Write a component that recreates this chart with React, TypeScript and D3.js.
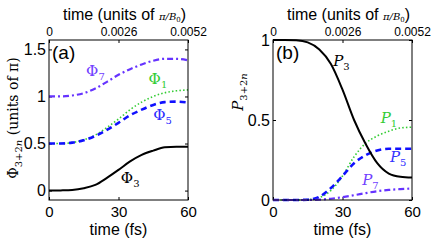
import * as d3 from 'd3'
import { useEffect, useRef } from 'react'

// time grid (fs)
const times = [0, 5, 10, 15, 20, 25, 30, 35, 40, 45, 50, 55, 60]

// panel (a): phases in units of pi
const phi1 = [0.5, 0.5, 0.51, 0.54, 0.59, 0.67, 0.76, 0.86, 0.94, 1.0, 1.04, 1.06, 1.07]
const phi3 = [0, 0.002, 0.007, 0.025, 0.06, 0.135, 0.22, 0.31, 0.38, 0.425, 0.46, 0.467, 0.467]
const phi5 = [0.5, 0.5, 0.51, 0.535, 0.58, 0.645, 0.72, 0.8, 0.86, 0.91, 0.94, 0.945, 0.935]
const phi7 = [1.0, 1.0, 1.01, 1.035, 1.085, 1.155, 1.23, 1.29, 1.34, 1.38, 1.4, 1.4, 1.385]

// panel (b): populations
const p1 = [0, 0, 0, 0.003, 0.015, 0.06, 0.15, 0.27, 0.355, 0.4, 0.43, 0.45, 0.455]
const p3 = [1, 1, 0.998, 0.985, 0.94, 0.85, 0.69, 0.5, 0.35, 0.23, 0.165, 0.145, 0.14]
const p5 = [0, 0, 0, 0.002, 0.02, 0.075, 0.15, 0.23, 0.28, 0.31, 0.32, 0.32, 0.32]
const p7 = [0, 0, 0, 0, 0.002, 0.008, 0.018, 0.03, 0.043, 0.055, 0.063, 0.068, 0.072]

const xTicks = [0, 30, 60]
const topTicks = [0, 0.0026, 0.0052]
const topTickLabels = ['0', '0.0026', '0.0052']
const phiTicks = [0, 0.5, 1, 1.5]
const phiTickLabels = ['0', '0.5', '1', '1.5']
const pTicks = [0, 0.5, 1]
const pTickLabels = ['0', '0.5', '1']

const sans = 'Liberation Sans, Arial, sans-serif'
const serif = 'DejaVu Serif, Liberation Serif, serif'

const styles = {
  black: { color: '#000000', width: 2, dash: null },
  green: { color: '#33cc33', width: 1.6, dash: '1.5,2.2' },
  blue: { color: '#1010ff', width: 2.6, dash: '6,4' },
  purple: { color: '#6633ff', width: 2.2, dash: '6,3,2,3' },
}

export default function App() {
  const ref = useRef(null)

  useEffect(() => {
    const svg = d3.select(ref.current)
    svg.selectAll('*').remove()

    const top = 40
    const bottom = 200

    function panel(x0, x1, yDomain, yTicks, yLabels, series, tag) {
      const x = d3.scaleLinear().domain([0, 60]).range([x0, x1])
      const xt = d3.scaleLinear().domain([0, 0.0052]).range([x0, x1])
      const y = d3.scaleLinear().domain(yDomain).range([bottom, top])
      const g = svg.append('g')

      const styleAxis = (sel, size) => {
        sel.select('.domain').remove()
        sel.selectAll('line').attr('stroke', '#000')
        sel.selectAll('text').attr('font-family', sans).attr('font-size', size).attr('fill', '#000')
      }

      g.append('g')
        .attr('transform', `translate(0,${bottom})`)
        .call(d3.axisBottom(x).tickValues(xTicks).tickSize(-3).tickPadding(6))
        .call((s) => styleAxis(s, 15))
      g.append('g')
        .attr('transform', `translate(0,${top})`)
        .call(
          d3
            .axisTop(xt)
            .tickValues(topTicks)
            .tickFormat((d, i) => topTickLabels[i])
            .tickSize(-3)
            .tickPadding(4)
        )
        .call((s) => styleAxis(s, 12))
      g.append('g')
        .attr('transform', `translate(${x0},0)`)
        .call(
          d3
            .axisLeft(y)
            .tickValues(yTicks)
            .tickFormat((d, i) => yLabels[i])
            .tickSize(-3)
            .tickPadding(3)
        )
        .call((s) => styleAxis(s, 16))
      g.append('g')
        .attr('transform', `translate(${x1},0)`)
        .call(d3.axisRight(y).tickValues(yTicks).tickSize(-3).tickFormat(() => ''))
        .call((s) => styleAxis(s, 16))

      const line = d3
        .line()
        .x((d, i) => x(times[i]))
        .y((d) => y(d))
        .curve(d3.curveMonotoneX)

      series.forEach(([vals, st]) => {
        g.append('path')
          .attr('d', line(vals))
          .attr('fill', 'none')
          .attr('stroke', st.color)
          .attr('stroke-width', st.width)
          .attr('stroke-dasharray', st.dash)
      })

      g.append('rect')
        .attr('x', x0)
        .attr('y', top)
        .attr('width', x1 - x0)
        .attr('height', bottom - top)
        .attr('fill', 'none')
        .attr('stroke', '#000')
        .attr('stroke-width', 1)

      g.append('text')
        .attr('x', x0 + 3)
        .attr('y', top + 19)
        .attr('font-family', sans)
        .attr('font-size', 19)
        .text(tag)

      g.append('text')
        .attr('x', (x0 + x1) / 2)
        .attr('y', 235)
        .attr('text-anchor', 'middle')
        .attr('font-family', sans)
        .attr('font-size', 16)
        .text('time (fs)')

      const tt = g
        .append('text')
        .attr('x', (x0 + x1) / 2 + 6)
        .attr('y', 20)
        .attr('text-anchor', 'middle')
        .attr('font-family', sans)
        .attr('font-size', 16)
      tt.append('tspan').text('time (units of ')
      tt.append('tspan').attr('font-family', serif).attr('font-style', 'italic').attr('font-size', 10).text('\u03c0/B')
      tt.append('tspan').attr('font-family', serif).attr('font-size', 7).attr('dy', 2).text('0')
      tt.append('tspan').attr('dy', -2).text(')')

      return { g, x, y }
    }

    const a = panel(49, 188, [-0.1, 1.6], phiTicks, phiTickLabels, [
      [phi1, styles.green],
      [phi5, styles.blue],
      [phi7, styles.purple],
      [phi3, styles.black],
    ], '(a)')

    const b = panel(273, 412, [0, 1], pTicks, pTickLabels, [
      [p1, styles.green],
      [p5, styles.blue],
      [p7, styles.purple],
      [p3, styles.black],
    ], '(b)')

    function sublabel(g, px, py, main, sub, color, italic) {
      const t = g
        .append('text')
        .attr('x', px)
        .attr('y', py)
        .attr('font-family', serif)
        .attr('font-size', 15)
        .attr('fill', color)
      t.append('tspan').attr('font-style', italic ? 'italic' : 'normal').text(main)
      t.append('tspan').attr('font-size', 10).attr('dy', 4).text(sub)
    }

    // curve labels panel (a)
    sublabel(a.g, a.x(16), a.y(1.215), '\u03a6', '7', '#7040ff', false)
    sublabel(a.g, a.x(43), a.y(1.13), '\u03a6', '1', '#33cc33', false)
    sublabel(a.g, a.x(45), a.y(0.75), '\u03a6', '5', '#2a2aff', false)
    sublabel(a.g, a.x(31), a.y(0.08), '\u03a6', '3', '#000', false)

    // curve labels panel (b)
    sublabel(b.g, b.x(26), b.y(0.84), 'P', '3', '#000', true)
    sublabel(b.g, b.x(46.5), b.y(0.48), 'P', '1', '#33cc33', true)
    sublabel(b.g, b.x(50.5), b.y(0.24), 'P', '5', '#3333ff', true)
    sublabel(b.g, b.x(38.5), b.y(0.095), 'P', '7', '#7040ff', true)

    // y axis labels
    const yl = svg
      .append('text')
      .attr('transform', 'translate(18,118) rotate(-90)')
      .attr('text-anchor', 'middle')
      .attr('font-family', serif)
      .attr('font-size', 14)
    yl.append('tspan').text('\u03a6')
    yl.append('tspan').attr('font-size', 10).attr('dy', 4).text('3+2')
    yl.append('tspan').attr('font-size', 10).attr('font-style', 'italic').text('n')
    yl.append('tspan').attr('dy', -4).text(' (units of \u03c0)')

    const pl = svg
      .append('text')
      .attr('transform', 'translate(243,92) rotate(-90)')
      .attr('text-anchor', 'middle')
      .attr('font-family', serif)
      .attr('font-size', 15)
    pl.append('tspan').attr('font-style', 'italic').text('P')
    pl.append('tspan').attr('font-size', 10).attr('dy', 4).text('3+2')
    pl.append('tspan').attr('font-size', 10).attr('font-style', 'italic').text('n')
  }, [])

  return (
    <svg
      ref={ref}
      width={436}
      height={240}
      style={{ position: 'absolute', left: 0, top: 0, background: '#fff' }}
    />
  )
}
